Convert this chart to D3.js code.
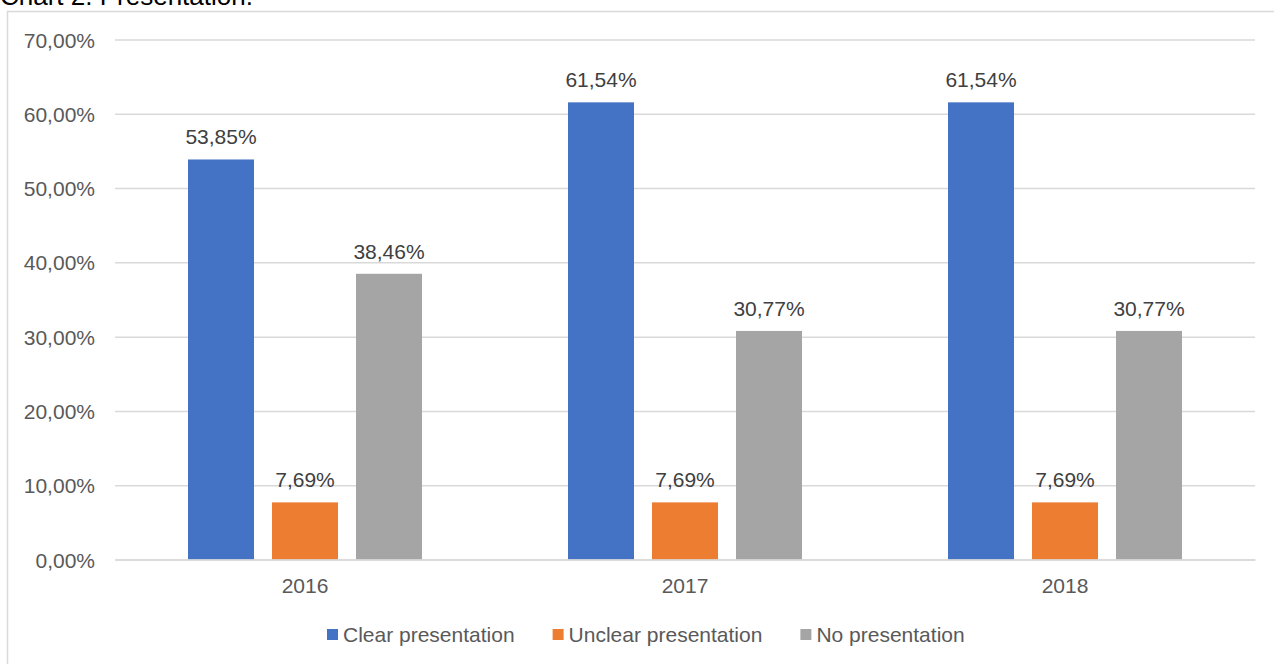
<!DOCTYPE html>
<html>
<head>
<meta charset="utf-8">
<script src="https://cdn.jsdelivr.net/npm/d3@7"></script>
<style>
  html, body { margin: 0; padding: 0; background: #fff; }
  svg { display: block; font-family: "Liberation Sans", Arial, sans-serif; }
</style>
</head>
<body>
<svg id="chart" width="1274" height="664"></svg>
<script>
// Chart data
const years = ["2016", "2017", "2018"];
const seriesNames = ["Clear presentation", "Unclear presentation", "No presentation"];
const seriesColors = ["#4472c4", "#ed7d31", "#a5a5a5"];
const clearValues = [53.85, 61.54, 61.54];
const unclearValues = [7.69, 7.69, 7.69];
const noneValues = [38.46, 30.77, 30.77];
const yTicks = [0, 10, 20, 30, 40, 50, 60, 70];

const seriesValues = [clearValues, unclearValues, noneValues];

const svg = d3.select("#chart");
const fmt = v => v.toFixed(2).replace(".", ",") + "%";

// Outer frame of the chart area (extends past the right and bottom edges)
svg.append("rect")
  .attr("x", 7.5).attr("y", 11.5)
  .attr("width", 1290).attr("height", 680)
  .attr("fill", "#fff")
  .attr("stroke", "#d9d9d9").attr("stroke-width", 1.5);

// Caption above the frame
svg.append("text")
  .attr("x", 0).attr("y", 5)
  .attr("font-size", 26).attr("fill", "#000")
  .text("Chart 2. Presentation.");

const plot = { left: 115, right: 1255, top: 39.5, bottom: 559.5 };

const x0 = d3.scaleBand().domain(years).range([plot.left, plot.right]).paddingInner(0).paddingOuter(0);
const y = d3.scaleLinear().domain([0, 70]).range([plot.bottom, plot.top]);

const barWidth = 66, barStep = 84;
const x1 = d3.scaleOrdinal().domain([0, 1, 2]).range([-barStep - barWidth / 2, -barWidth / 2, barStep - barWidth / 2]);

// Horizontal gridlines and percentage ticks
const yAxis = d3.axisLeft(y).tickValues(yTicks).tickSize(-(plot.right - plot.left)).tickFormat(d => fmt(d)).tickPadding(20);
const gy = svg.append("g").attr("transform", `translate(${plot.left},0)`).call(yAxis);
gy.select(".domain").remove();
gy.selectAll(".tick line").attr("stroke", "#d9d9d9").attr("stroke-width", 1.5);
gy.selectAll(".tick text")
  .attr("font-size", 21).attr("fill", "#595959")
  .attr("font-family", "Liberation Sans, Arial, sans-serif")
  .attr("dy", "0.36em");

// Bars and value labels
seriesValues.forEach((vals, si) => {
  const g = svg.append("g");
  g.selectAll("rect").data(vals).join("rect")
    .attr("x", (d, i) => x0(years[i]) + x0.bandwidth() / 2 + x1(si))
    .attr("y", d => y(d))
    .attr("width", barWidth)
    .attr("height", d => y(0) - y(d))
    .attr("fill", seriesColors[si]);
  g.selectAll("text").data(vals).join("text")
    .attr("x", (d, i) => x0(years[i]) + x0.bandwidth() / 2 + x1(si) + barWidth / 2)
    .attr("y", d => y(d) - 15)
    .attr("text-anchor", "middle")
    .attr("font-size", 21).attr("fill", "#404040")
    .text(d => fmt(d));
});

// Category labels
const xAxis = d3.axisBottom(x0).tickSize(0).tickPadding(0);
const gx = svg.append("g").attr("transform", `translate(0,${plot.bottom})`).call(xAxis);
gx.select(".domain").attr("stroke", "#d9d9d9").attr("stroke-width", 1.5);
gx.selectAll(".tick text")
  .attr("font-size", 21).attr("fill", "#595959")
  .attr("font-family", "Liberation Sans, Arial, sans-serif")
  .attr("dy", null).attr("y", 33);

// Legend
const legend = svg.append("g").attr("transform", "translate(0,642)");
let lx = 327;
seriesNames.forEach((name, i) => {
  legend.append("rect")
    .attr("x", lx).attr("y", -13).attr("width", 11).attr("height", 11)
    .attr("fill", seriesColors[i]);
  const t = legend.append("text")
    .attr("x", lx + 16).attr("y", 0)
    .attr("font-size", 21).attr("fill", "#595959")
    .text(name);
  lx += 16 + t.node().getComputedTextLength() + 38;
});
</script>
</body>
</html>
